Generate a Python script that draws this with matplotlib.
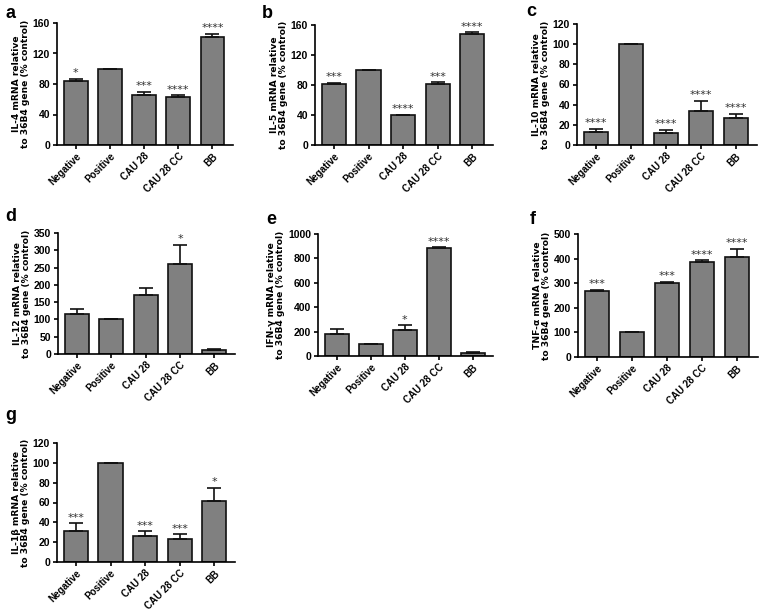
import matplotlib.pyplot as plt
import numpy as np

plt.rcParams['font.family'] = ['Liberation Sans', 'DejaVu Sans']
plt.rcParams['font.weight'] = 'bold'

groups = ['Negative', 'Positive', 'CAU 28', 'CAU 28 CC', 'BB']

# values (% control), upward error bars and stars
il4 = [84, 100, 66, 63, 142]
il4_err = [3, 0, 4, 2, 4]
il4_sig = ['*', '', '***', '****', '****']

il5 = [81, 100, 39.5, 82, 148]
il5_err = [2, 0, 1, 1.5, 2.5]
il5_sig = ['***', '', '****', '***', '****']

il10 = [13, 100, 12, 34, 27]
il10_err = [3, 0, 3, 10, 4]
il10_sig = ['****', '', '****', '****', '****']

il12 = [115, 100, 170, 260, 12]
il12_err = [14, 0, 22, 55, 3]
il12_sig = ['', '', '', '*', '']

ifng = [180, 100, 212, 882, 25]
ifng_err = [38, 0, 40, 8, 5]
ifng_sig = ['', '', '*', '****', '']

tnfa = [267, 100, 301, 388, 405]
tnfa_err = [6, 0, 4, 5, 36]
tnfa_sig = ['***', '', '***', '****', '****']

il1b = [31, 100, 26, 23, 62]
il1b_err = [8, 0, 5, 5, 13]
il1b_sig = ['***', '', '***', '***', '*']

panels = [
    ('a', 'IL-4', il4, il4_err, il4_sig, 160, 40, (57, 23, 145, 233), (5, 14)),
    ('b', 'IL-5', il5, il5_err, il5_sig, 160, 40, (315, 25, 145, 493), (262, 14)),
    ('c', 'IL-10', il10, il10_err, il10_sig, 120, 20, (577, 24, 145, 757), (526, 12)),
    ('d', 'IL-12', il12, il12_err, il12_sig, 350, 50, (58, 233, 354, 235), (5, 216)),
    ('e', 'IFN-\u03b3', ifng, ifng_err, ifng_sig, 1000, 200, (318, 234, 356, 493), (266, 219)),
    ('f', 'TNF-\u03b1', tnfa, tnfa_err, tnfa_sig, 500, 100, (578, 234, 357, 758), (530, 219)),
    ('g', 'IL-1\u03b2', il1b, il1b_err, il1b_sig, 120, 20, (57, 443, 562, 235), (5, 416)),
]

W, H = 760, 612
fig = plt.figure(figsize=(W / 100, H / 100), dpi=100)

for letter, gene, vals, errs, sig, ymax, step, box, lab in panels:
    left, top, zero, right = box
    ax = fig.add_axes([left / W, 1 - zero / H, (right - left) / W, (zero - top) / H])
    x = np.arange(len(groups))
    ax.bar(x, vals, width=0.7, color='#808080', edgecolor='#111111', linewidth=1.2, zorder=2)
    ax.errorbar(x, vals, yerr=[np.zeros(len(vals)), errs], fmt='none', ecolor='#111111',
                elinewidth=1.2, capsize=5, capthick=1.2, zorder=3)
    for xi, v, e, s in zip(x, vals, errs, sig):
        if s:
            ax.text(xi, v + e + ymax * 0.005, s, ha='center', va='bottom', fontsize=8,
                    fontweight='normal', family='DejaVu Sans', color='#333333')
    ax.set_xlim(-0.55, 4.6)
    ax.set_ylim(0, ymax)
    ax.set_yticks(np.arange(0, ymax + 1, step))
    ax.set_xticks(x)
    ax.set_xticklabels(groups, rotation=45, ha='right', rotation_mode='anchor', fontsize=7)
    ax.tick_params(axis='y', labelsize=7.5, width=1.2, length=3, pad=2)
    ax.tick_params(axis='x', width=1.2, length=3, pad=1.5)
    for s in ['top', 'right']:
        ax.spines[s].set_visible(False)
    for s in ['left', 'bottom']:
        ax.spines[s].set_linewidth(1.2)
    ax.set_ylabel(gene + ' mRNA relative\nto 36B4 gene (% control)', fontsize=6.6,
                  family='DejaVu Sans', fontweight='bold', labelpad=2, linespacing=1.0)
    fig.text(lab[0] / W, 1 - lab[1] / H, letter, fontsize=13, fontweight='bold',
             va='center', ha='left')

fig.savefig('out.png', dpi=100)
